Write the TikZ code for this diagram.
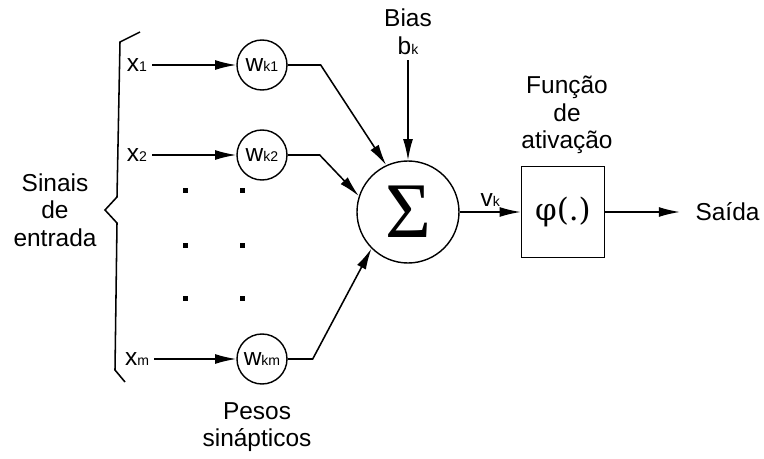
\documentclass[tikz,border=0pt]{standalone}
\usepackage{fontspec}
\setmainfont{Liberation Sans}
\newfontfamily\serifsym{Liberation Serif}
\newfontfamily\phisym{DejaVu Serif}
\usetikzlibrary{arrows.meta}
\tikzset{>={Latex[length=15pt,width=7pt]}}
\newcommand{\idx}[1]{{\fontsize{10}{12}\selectfont #1}}

\begin{document}
\begin{tikzpicture}[line width=1.1pt, font=\fontsize{17.4}{19.6}\selectfont,
    peso/.style={draw, circle, line width=1pt, minimum size=1.25cm, inner sep=0pt},
    ponto/.style={fill, minimum size=0.125cm, inner sep=0pt}]
    \useasboundingbox (0,0) rectangle (19.1,11.45);
    \node [peso](w1) at (6.55,9.825){w\idx{k1}};
    \node [peso](w2) at (6.55,7.575){w\idx{k2}};
    \node [peso](wm) at (6.55,2.475){w\idx{km}};
    \node (x1) at (3.425,9.825){x\idx{1}};
    \node (x2) at (3.425,7.575){x\idx{2}};
    \node (xm) at (3.425,2.475){x\idx{m}};
    \draw [->] (x1) -- (w1);
    \draw [->] (x2) -- (w2);
    \draw [->] (xm) -- (wm);
    \foreach \i/\x in {1/4.625,2/6.05}
        \foreach \j/\y in {1/6.7,2/5.325,3/4.0}
            \node [ponto](p\i\j) at (\x,\y){};
    \draw (3.5,10.65) -- (3.0,10.4) -- (2.925,6.525) -- (2.625,6.2)
        -- (2.925,5.875) -- (2.875,2.2) -- (3.125,1.9);
    \node [align=center](sinais) at (1.375,6.2){Sinais\\de\\entrada};
    \node [align=center](pesos) at (6.425,0.775){Pesos\\sinápticos};
    \node [draw, circle, line width=1pt, minimum size=2.55cm, inner sep=0pt](soma) at (10.2,6.15)
        {\serifsym\fontsize{56}{56}\selectfont Σ};
    \node [align=center](bias) at (10.2,10.65){Bias\\b\idx{k}};
    \draw [->] (bias) -- (soma);
    \draw [->] (w1.east) --++ (0:0.825) -- (soma.115);
    \draw [->] (w2.east) --++ (0:0.8) -- (soma.162);
    \draw [->] (wm.east) --++ (0:0.625) -- (soma.225);
    \node [draw, line width=1pt, minimum width=2.075cm, minimum height=2.275cm](phi) at (14.075,6.15)
        {\phisym\fontsize{22}{22}\selectfont φ(.)};
    \node [align=center](ativ) at (14.175,8.575){Função\\de\\ativação};
    \draw [->] (soma) -- node[above]{v\idx{k}} (phi);
    \node [anchor=west, inner xsep=10.5pt](saida) at (17.0,6.15){Saída};
    \draw [->] (phi) -- (saida);
\end{tikzpicture}
\end{document}
